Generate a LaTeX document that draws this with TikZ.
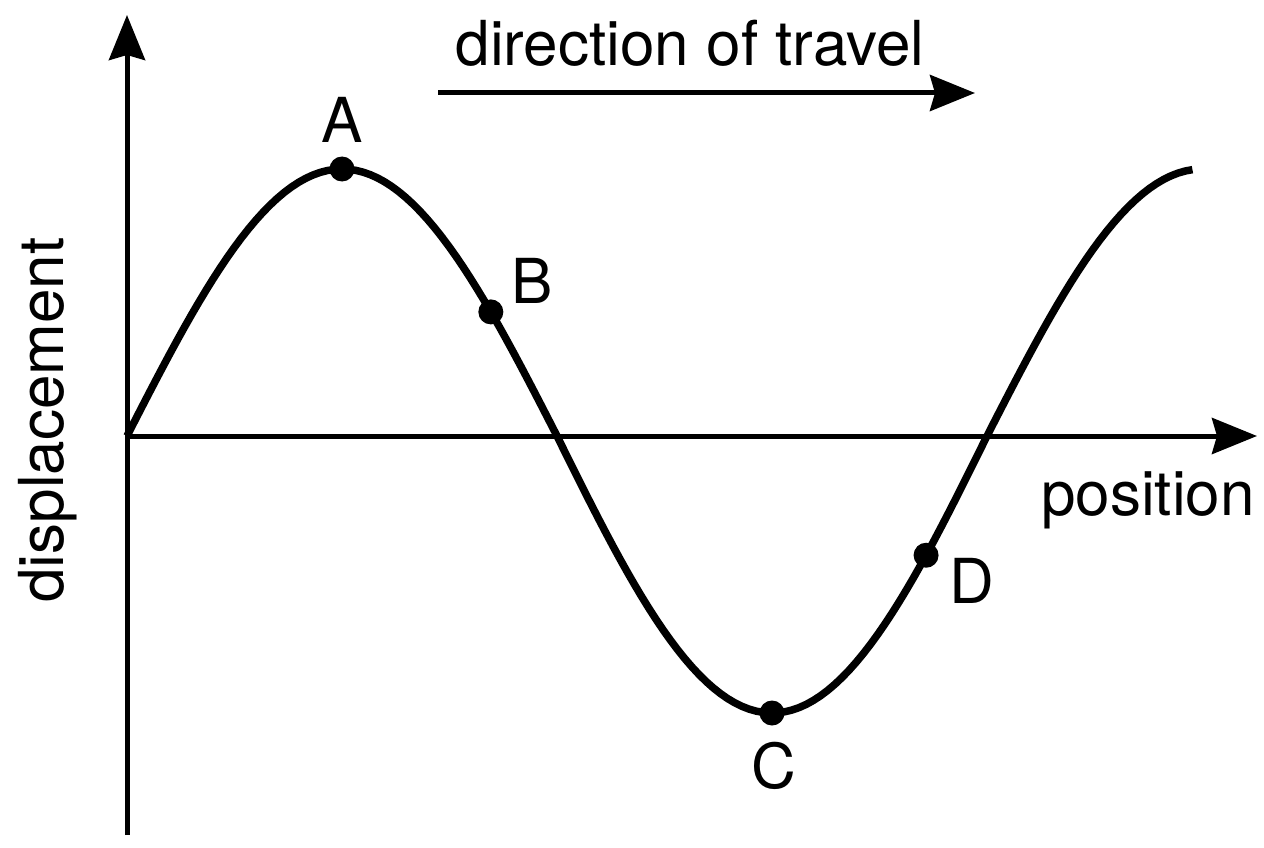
\documentclass[tikz,border=0pt]{standalone}
\usepackage{fontspec}
\setmainfont{TeX Gyre Heros}
\usetikzlibrary{arrows.meta}

\begin{document}
\begin{tikzpicture}
  [x=1pt, y=-1pt,
   axis/.style={line width=5pt, -{Stealth[length=45pt, width=36pt, inset=5pt]}},
   dot/.style={circle, fill=black, inner sep=0pt, minimum size=25pt},
   lbl/.style={inner sep=0pt, anchor=base, font=\fontsize{62}{70}\selectfont}]
  \useasboundingbox (0,0) rectangle (1264,848);
  \coordinate (o) at (127,436);
  \coordinate (ybot) at (127,835);
  \coordinate (ytop) at (127,15);
  \coordinate (xend) at (1257,436);
  \coordinate (dstart) at (438,93);
  \coordinate (dend) at (975,93);
  \draw [axis] (ybot) to (ytop);
  \draw [axis] (o) to (xend);
  \draw [axis] (dstart) to (dend);
  \draw [line width=7.5pt] plot [domain=0:446, samples=150]
    ({127+\x/18*43}, {436-(sin(\x)>0 ? 267 : 277)*sin(\x)});
  \foreach \name/\t in {A/90, B/152.3, C/270, D/334.5}{
    \node (\name) at ({127+\t/18*43}, {436-(sin(\t)>0 ? 267 : 277)*sin(\t)}) [dot] {};
  }
  \foreach \name/\lx/\ly in {A/342/143, B/532/303, C/774/788, D/972/603}{
    \node (l\name) at (\lx,\ly) [lbl] {\name};
  }
  \node (ttravel) at (690,66) [lbl] {direction of travel};
  \node (tpos) at (1148,515) [lbl] {position};
  \node (tdisp) at (63,420) [lbl, rotate=90] {displacement};
\end{tikzpicture}
\end{document}
